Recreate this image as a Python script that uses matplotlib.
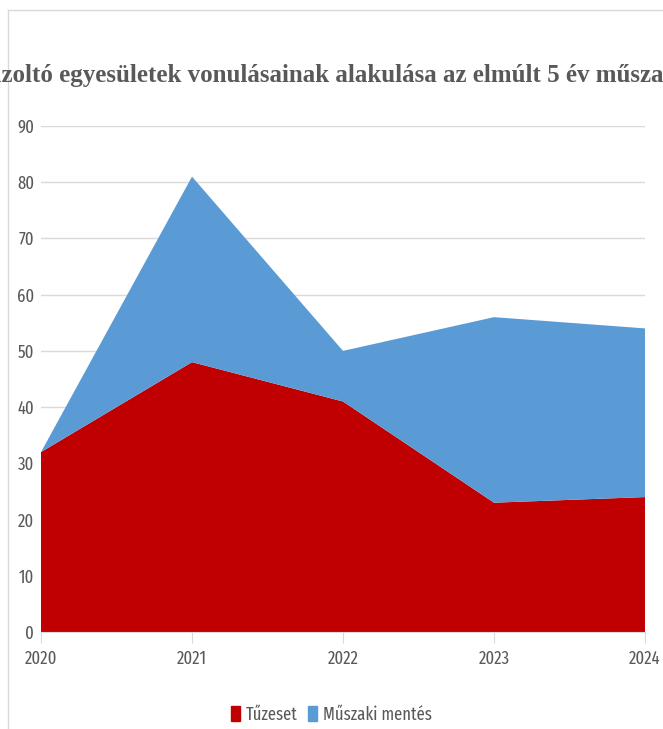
import matplotlib.pyplot as plt
from matplotlib.lines import Line2D
from matplotlib.patches import Patch

years = [2020, 2021, 2022, 2023, 2024]
tuzeset = [32, 48, 41, 23, 24]
muszaki = [0, 33, 9, 33, 30]
labels = ["Tűzeset", "Műszaki mentés"]
colors = ["#C00000", "#5B9BD5"]

title = "Tűzoltó egyesületek vonulásainak alakulása az elmúlt 5 év műszaki"
tick_font = ["Fira Sans Extra Condensed", "DejaVu Sans"]

fig = plt.figure(figsize=(6.63, 7.29), dpi=100)
ax = fig.add_axes([41 / 663, 97 / 729, 604 / 663, 506 / 729])

ax.stackplot(years, tuzeset, muszaki, colors=colors, labels=labels, zorder=2)

ax.set_xlim(2020, 2024)
ax.set_ylim(0, 90)
ax.set_yticks(range(0, 91, 10))
ax.set_xticks(years)
ax.grid(axis="y", color="#D9D9D9", linewidth=1, zorder=0)
for s in ["top", "right", "left"]:
    ax.spines[s].set_visible(False)
ax.spines["bottom"].set_color("#D9D9D9")
ax.tick_params(axis="y", length=0, pad=5)
ax.tick_params(axis="x", length=8, color="#D9D9D9", pad=5)
for t in ax.get_xticklabels() + ax.get_yticklabels():
    t.set_family(tick_font)
    t.set_fontsize(13)
    t.set_color("#595959")

# title sticks out of the chart on both sides
fig.text(-0.043, 0.888, title, family=["Liberation Serif", "DejaVu Serif"],
         fontweight="bold", fontsize=18, color="#595959", ha="left", va="baseline")

handles = [Patch(color=c) for c in colors]
fig.legend(handles, labels, loc="center", bbox_to_anchor=(0.5, 14 / 729), ncol=2,
           frameon=False, handlelength=0.5, handleheight=0.9, handletextpad=0.3,
           columnspacing=0.6, prop={"family": tick_font, "size": 13},
           labelcolor="#595959")

# chart border
fig.add_artist(Line2D([8 / 663, 8 / 663], [0, 719 / 729], color="#D9D9D9", lw=1))
fig.add_artist(Line2D([8 / 663, 1], [719 / 729, 719 / 729], color="#D9D9D9", lw=1))

fig.savefig("out.png", dpi=100)
